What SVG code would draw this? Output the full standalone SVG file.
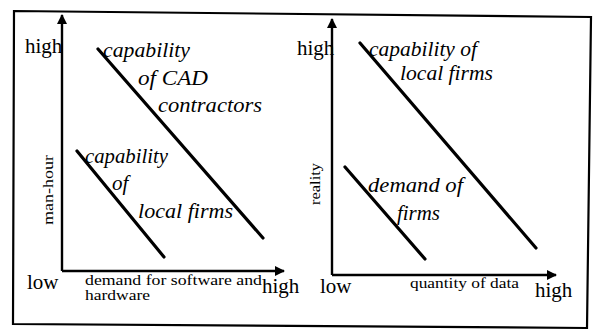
<svg xmlns="http://www.w3.org/2000/svg" width="597" height="331" viewBox="0 0 597 331">
<style>
.frame{fill:none;stroke:#000;stroke-width:2.2}
.axis{fill:none;stroke:#000;stroke-width:2.4}
.trend{fill:none;stroke:#000;stroke-width:3.2;stroke-linecap:round}
.end{font-family:"Liberation Serif",serif;font-size:21px;fill:#000}
.ax{font-family:"Liberation Serif",serif;font-size:15px;fill:#000}
.lab{font-family:"Liberation Serif",serif;font-style:italic;font-size:21px;fill:#000}
</style>
<defs>
<marker id="arr" viewBox="0 0 10 10" refX="9" refY="5" markerWidth="10" markerHeight="10" markerUnits="userSpaceOnUse" orient="auto">
<path d="M0,0 L10,5 L0,10 z" fill="#000"/>
</marker>
</defs>
<rect width="597" height="331" fill="#fff"/>
<polygon class="frame" points="14,11 591,17 587,328 13,324"/>
<g id="connectors">
<path class="axis" d="M62,271 L62,15" marker-end="url(#arr)"/>
<path class="axis" d="M62,271 L284,271" marker-end="url(#arr)"/>
<path class="axis" d="M332,275 L332,19" marker-end="url(#arr)"/>
<path class="axis" d="M332,275 L556,275" marker-end="url(#arr)"/>
<line class="trend" x1="98" y1="49" x2="263" y2="238"/>
<line class="trend" x1="77" y1="151" x2="164" y2="257"/>
<line class="trend" x1="360" y1="43" x2="536" y2="248"/>
<line class="trend" x1="345" y1="167" x2="425" y2="259"/>
</g>
<g id="left-axis-labels">
<text class="end" x="25" y="53">high</text>
<text class="end" x="27" y="289">low</text>
<text class="end" x="262" y="293">high</text>
<text class="ax" x="85" y="285" textLength="177" lengthAdjust="spacingAndGlyphs">demand for software and</text>
<text class="ax" x="85" y="300" textLength="65" lengthAdjust="spacingAndGlyphs">hardware</text>
<text class="ax" transform="translate(53,190) rotate(-90)" text-anchor="middle" textLength="70" lengthAdjust="spacingAndGlyphs">man-hour</text>
</g>
<g id="cad-contractors">
<text class="lab" x="103" y="57" textLength="87" lengthAdjust="spacingAndGlyphs">capability</text>
<text class="lab" x="138" y="85" textLength="70" lengthAdjust="spacingAndGlyphs">of  CAD</text>
<text class="lab" x="158" y="112" textLength="104" lengthAdjust="spacingAndGlyphs">contractors</text>
</g>
<g id="local-firms-left">
<text class="lab" x="85" y="163" textLength="83" lengthAdjust="spacingAndGlyphs">capability</text>
<text class="lab" x="112" y="190">of</text>
<text class="lab" x="138" y="218" textLength="95" lengthAdjust="spacingAndGlyphs">local firms</text>
</g>
<g id="right-axis-labels">
<text class="end" x="297" y="55">high</text>
<text class="end" x="320" y="293">low</text>
<text class="end" x="535" y="297">high</text>
<text class="ax" x="410" y="288" textLength="109" lengthAdjust="spacingAndGlyphs">quantity of data</text>
<text class="ax" transform="translate(320,184) rotate(-90)" text-anchor="middle" textLength="42" lengthAdjust="spacingAndGlyphs">reality</text>
</g>
<g id="local-firms-right">
<text class="lab" x="369" y="56" textLength="108" lengthAdjust="spacingAndGlyphs">capability of</text>
<text class="lab" x="400" y="80" textLength="93" lengthAdjust="spacingAndGlyphs">local firms</text>
</g>
<g id="demand-of-firms">
<text class="lab" x="368" y="192" textLength="95" lengthAdjust="spacingAndGlyphs">demand of</text>
<text class="lab" x="397" y="220" textLength="43" lengthAdjust="spacingAndGlyphs">firms</text>
</g>
</svg>
